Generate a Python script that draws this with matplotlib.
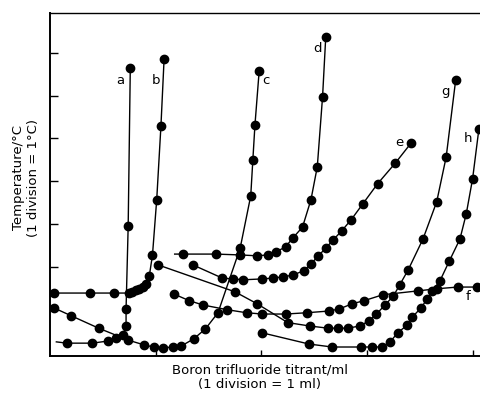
import matplotlib
matplotlib.use("Agg")
import matplotlib.pyplot as plt

plt.rcParams['font.family'] = ['DejaVu Sans']

# titrant volume (ml) and temperature (divisions of 1 degC)
a_x = [0.06, 0.16, 0.40, 0.55, 0.62, 0.69, 0.72, 0.72, 0.74, 0.76]
a_y = [0.25, 0.22, 0.22, 0.27, 0.34, 0.41, 0.62, 1.02, 2.96, 6.65]

b_x = [0.04, 0.38, 0.61, 0.75, 0.78, 0.81, 0.84, 0.88, 0.91, 0.94, 0.97, 1.01, 1.05, 1.08]
b_y = [1.39, 1.39, 1.39, 1.39, 1.42, 1.46, 1.49, 1.53, 1.60, 1.79, 2.28, 3.57, 5.29, 6.86]

c_x = [0.04, 0.20, 0.46, 0.74, 0.89, 0.98, 1.07, 1.16, 1.24, 1.36, 1.47, 1.59, 1.80, 1.90, 1.92, 1.94, 1.98]
c_y = [1.04, 0.86, 0.57, 0.29, 0.18, 0.13, 0.11, 0.13, 0.15, 0.32, 0.55, 0.93, 2.44, 3.66, 4.50, 5.32, 6.58]

d_x = [1.18, 1.26, 1.57, 1.80, 1.96, 2.06, 2.14, 2.23, 2.30, 2.39, 2.47, 2.53, 2.58, 2.61]
d_y = [2.30, 2.30, 2.30, 2.28, 2.26, 2.28, 2.35, 2.47, 2.68, 2.93, 3.57, 4.34, 5.98, 7.37]

e_x = [1.35, 1.63, 1.73, 1.83, 2.01, 2.11, 2.21, 2.30, 2.40, 2.47, 2.54, 2.61, 2.68, 2.76, 2.85, 2.96, 3.10, 3.27, 3.42]
e_y = [2.05, 1.74, 1.72, 1.70, 1.72, 1.74, 1.77, 1.81, 1.91, 2.07, 2.26, 2.44, 2.63, 2.84, 3.10, 3.47, 3.94, 4.43, 4.90]

f_x = [1.17, 1.32, 1.45, 1.68, 1.86, 2.01, 2.23, 2.43, 2.64, 2.74, 2.86, 2.97, 3.15, 3.48, 3.66, 3.86, 4.04]
f_y = [1.37, 1.21, 1.11, 1.00, 0.93, 0.90, 0.90, 0.93, 0.97, 1.02, 1.14, 1.21, 1.35, 1.44, 1.49, 1.53, 1.53]

g_x = [1.02, 1.75, 1.96, 2.25, 2.46, 2.63, 2.73, 2.82, 2.93, 3.02, 3.09, 3.17, 3.25, 3.31, 3.39, 3.53, 3.66, 3.75, 3.84]
g_y = [2.05, 1.42, 1.14, 0.70, 0.62, 0.57, 0.57, 0.57, 0.62, 0.74, 0.90, 1.11, 1.32, 1.58, 1.93, 2.65, 3.52, 4.57, 6.37]

h_x = [2.01, 2.45, 2.67, 2.94, 3.05, 3.14, 3.22, 3.29, 3.38, 3.43, 3.51, 3.57, 3.62, 3.69, 3.78, 3.88, 3.94, 4.00, 4.06]
h_y = [0.46, 0.20, 0.13, 0.13, 0.13, 0.13, 0.25, 0.46, 0.64, 0.83, 1.04, 1.25, 1.44, 1.67, 2.14, 2.65, 3.24, 4.06, 5.23]

curves = {'a': (a_x, a_y), 'b': (b_x, b_y), 'c': (c_x, c_y), 'd': (d_x, d_y),
          'e': (e_x, e_y), 'f': (f_x, f_y), 'g': (g_x, g_y), 'h': (h_x, h_y)}
# curves whose line starts before the first plotted dot
no_first_dot = ['a', 'd']

# label positions (data units)
label_pos = {'a': (0.67, 6.35), 'b': (1.00, 6.35), 'c': (2.04, 6.35), 'd': (2.53, 7.10),
             'e': (3.31, 4.90), 'f': (3.96, 1.30), 'g': (3.74, 6.10), 'h': (3.96, 5.00)}

fig = plt.figure(figsize=(4.8, 3.95), dpi=100)
ax = fig.add_axes([50 / 480, 1 - 356 / 395, 430 / 480, 343 / 395])

for name, (xs, ys) in curves.items():
    start = 1 if name in no_first_dot else 0
    ax.plot(xs, ys, color='black', lw=1.0, marker='o', ms=6,
            markevery=list(range(start, len(xs))))
    lx, ly = label_pos[name]
    ax.text(lx, ly, name, fontsize=9.5, ha='center', va='center')

ax.set_xlim(0.0, 4.07)
ax.set_ylim(-0.08, 7.93)
ax.set_xticks([1, 2, 3, 4])
ax.set_yticks([1, 2, 3, 4, 5, 6, 7])
ax.set_xticklabels([])
ax.set_yticklabels([])
ax.tick_params(axis='x', direction='in', length=4, width=1)
ax.tick_params(axis='y', direction='in', length=6, width=1)
ax.spines['right'].set_visible(False)
for s in ['left', 'bottom']:
    ax.spines[s].set_linewidth(1.4)
ax.spines['top'].set_linewidth(1.0)

fig.text(260 / 480, 1 - 377 / 395, 'Boron trifluoride titrant/ml\n(1 division = 1 ml)',
         ha='center', va='center', fontsize=9.5, linespacing=1.15, multialignment='center')
fig.text(26 / 480, 1 - 178 / 395, 'Temperature/°C\n(1 division = 1°C)',
         ha='center', va='center', fontsize=9.5, rotation=90, linespacing=1.25,
         multialignment='center')

fig.savefig('out.png', dpi=100)
